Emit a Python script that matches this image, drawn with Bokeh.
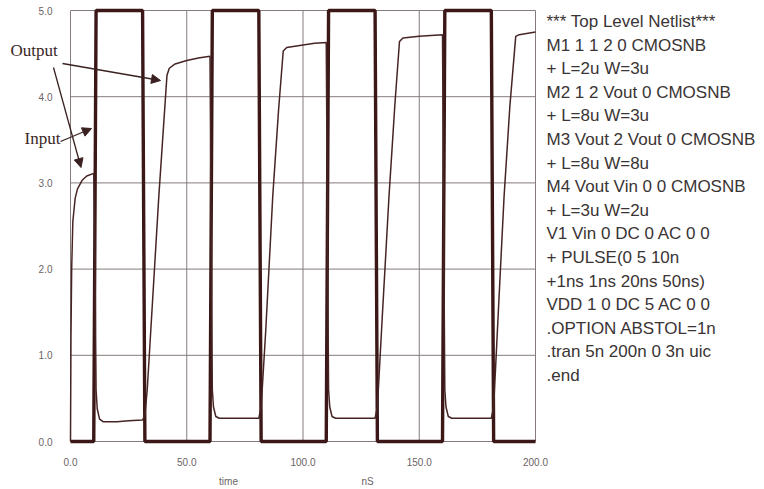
from bokeh.plotting import figure
from bokeh.models import Range1d, FixedTicker, Label, Arrow, NormalHead, PrintfTickFormatter
from bokeh.embed import file_html
from bokeh.resources import INLINE

# ---- transient analysis results (time in nS, voltage in V) ----
# V1 input: PULSE(0 5 10n 1ns 1ns 20ns 50ns)
input_t = [0, 10, 11, 31, 32, 60, 61, 81, 82, 110, 111, 131, 132, 160, 161, 181, 182, 200]
input_v = [0, 0, 5, 5, 0, 0, 5, 5, 0, 0, 5, 5, 0, 0, 5, 5, 0, 0]

# Vout node
output_t = [0, 0.2, 0.5, 1, 2, 3, 5, 7, 10,
            10.5, 11, 11.5, 12.5, 14, 20, 25, 31,
            32, 33, 35, 38, 40, 41.5, 42.5, 45, 50, 55, 60,
            60.5, 61, 61.5, 62.5, 64, 70, 81,
            82, 84, 87, 89.5, 91.5, 93, 100, 105, 110,
            110.5, 111, 111.5, 112.5, 114, 131,
            132, 134, 137, 139.5, 141.5, 143, 150, 160,
            160.5, 161, 161.5, 162.5, 164, 181,
            182, 184, 186.5, 189, 191.5, 193, 200]
output_v = [0, 1.2, 2.0, 2.55, 2.82, 2.93, 3.03, 3.08, 3.11,
            2.2, 0.6, 0.38, 0.26, 0.23, 0.23, 0.24, 0.25,
            0.3, 0.6, 1.5, 2.85, 3.65, 4.25, 4.33, 4.38, 4.42, 4.45, 4.47,
            2.5, 0.6, 0.4, 0.29, 0.27, 0.27, 0.27,
            0.4, 1.3, 2.85, 3.85, 4.53, 4.57, 4.60, 4.62, 4.63,
            2.5, 0.6, 0.4, 0.29, 0.27, 0.27,
            0.4, 1.4, 2.85, 3.9, 4.64, 4.68, 4.70, 4.72,
            2.5, 0.6, 0.4, 0.29, 0.27, 0.27,
            0.4, 1.5, 2.85, 3.9, 4.70, 4.72, 4.75]

x_ticks = [0, 50, 100, 150, 200]
y_ticks = [0, 1, 2, 3, 4, 5]

netlist = [
    "*** Top Level Netlist***",
    "M1 1 1 2 0 CMOSNB",
    "+ L=2u W=3u",
    "M2 1 2 Vout 0 CMOSNB",
    "+ L=8u W=3u",
    "M3 Vout 2 Vout 0 CMOSNB",
    "+ L=8u W=8u",
    "M4 Vout Vin 0 0 CMOSNB",
    "+ L=3u W=2u",
    "V1 Vin 0 DC 0 AC 0 0",
    "+ PULSE(0 5 10n",
    "+1ns 1ns 20ns 50ns)",
    "VDD 1 0 DC 5 AC 0 0",
    ".OPTION ABSTOL=1n",
    ".tran 5n 200n 0 3n uic",
    ".end",
]

# ---- page geometry: pixel position of t=0 / t=200 and V=0 / V=5 ----
W, H = 764, 489
PX_T0, PX_T200 = 70.0, 535.0
PX_V0, PX_V5 = 441.0, 10.0


def tx(px):
    return (px - PX_T0) * 200.0 / (PX_T200 - PX_T0)


def vy(py):
    return (PX_V0 - py) * 5.0 / (PX_V0 - PX_V5)


# the frame fills the whole canvas so that the netlist and callouts are not clipped
p = figure(width=W, height=H,
           x_range=Range1d(tx(0), tx(W)),
           y_range=Range1d(vy(H), vy(0)),
           output_backend="svg", toolbar_location=None,
           min_border=0)
p.outline_line_color = None
p.background_fill_color = "white"
p.border_fill_color = "white"
p.grid.visible = False

# plot grid, limited to the 0..200 nS x 0..5 V window
GRID = "#857b7b"
p.segment(x0=x_ticks, y0=[y_ticks[0]] * len(x_ticks), x1=x_ticks, y1=[y_ticks[-1]] * len(x_ticks),
          line_color=GRID, line_width=1)
p.segment(x0=[x_ticks[0]] * len(y_ticks), y0=y_ticks, x1=[x_ticks[-1]] * len(y_ticks), y1=y_ticks,
          line_color=GRID, line_width=1)

SANS = "Liberation Sans"
for ax, ticks in ((p.xaxis, x_ticks), (p.yaxis, y_ticks)):
    ax.ticker = FixedTicker(ticks=ticks)
    ax.formatter = PrintfTickFormatter(format="%.1f")
    ax.fixed_location = 0
    ax.axis_line_color = None
    ax.major_tick_line_color = None
    ax.minor_tick_line_color = None
    ax.major_tick_out = 0
    ax.major_tick_in = 0
    ax.minor_tick_out = 0
    ax.major_label_text_font = SANS
    ax.major_label_text_font_size = "10px"
    ax.major_label_text_color = "#6a6464"
p.xaxis.major_label_standoff = 16
p.yaxis.major_label_standoff = 18

INK = "#3b1717"
p.line(input_t, input_v, line_color=INK, line_width=3.4)
p.line(output_t, output_v, line_color="#472424", line_width=1.5)

# axis captions
for txt, px in (("time", 228), ("nS", 367)):
    p.add_layout(Label(x=tx(px), y=vy(481), text=txt, text_align="center",
                       text_baseline="middle", text_font=SANS,
                       text_font_size="10px", text_color="#6a6464"))

# callouts
SERIF = "Liberation Serif"
p.add_layout(Label(x=tx(10), y=vy(59), text="Output", text_font=SERIF,
                   text_font_size="17px", text_color="#3a2626"))
p.add_layout(Label(x=tx(24), y=vy(147), text="Input", text_font=SERIF,
                   text_font_size="17px", text_color="#3a2626"))

ARROW = "#3a2020"
for (x0, y0, x1, y1) in ((62, 63, 160, 80), (53, 67, 80.5, 167), (60, 141, 91, 128)):
    p.add_layout(Arrow(x_start=tx(x0), y_start=vy(y0), x_end=tx(x1), y_end=vy(y1),
                       line_color=ARROW, line_width=1.3,
                       end=NormalHead(size=9, fill_color=ARROW, line_color=ARROW)))

# netlist listing on the right
for i, line in enumerate(netlist):
    p.add_layout(Label(x=tx(546), y=vy(21 + i * 23.6), text=line,
                       text_baseline="middle", text_font=SANS,
                       text_font_size="17px", text_color="#3a3434"))

open("out.html", "w").write(file_html(p, INLINE))
